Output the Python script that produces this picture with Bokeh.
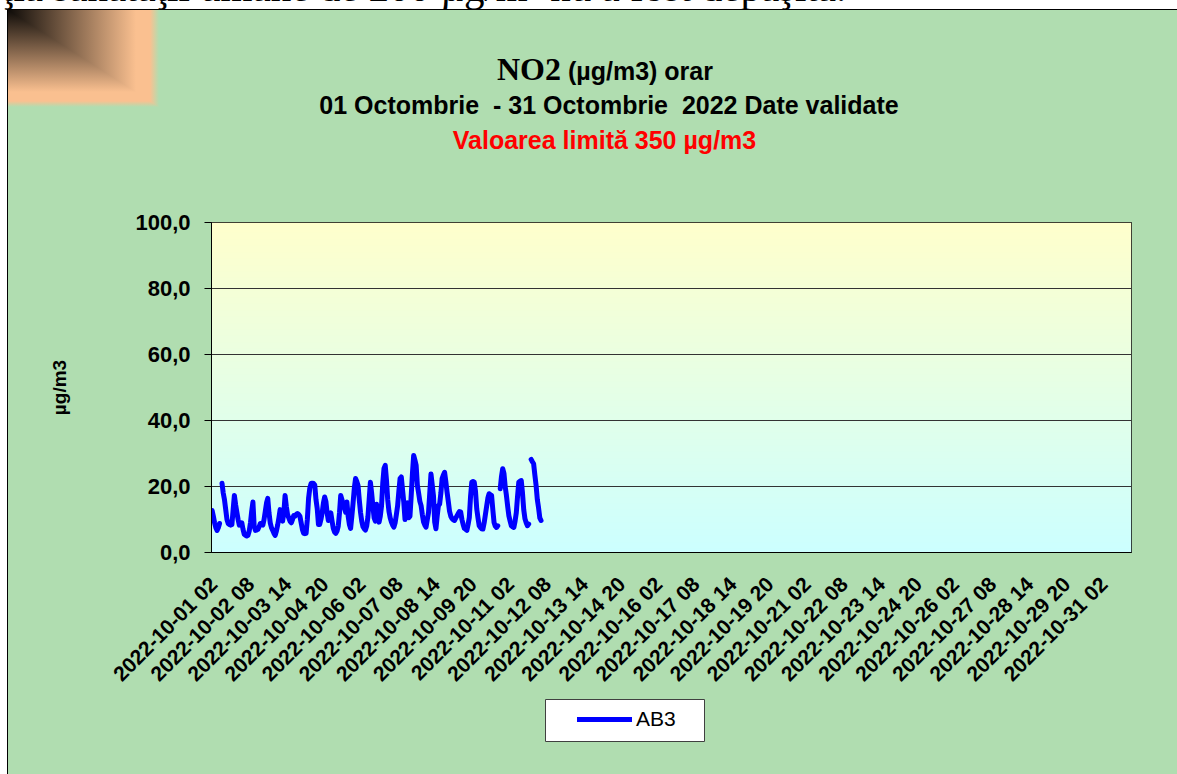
import math
import numpy as np
from bokeh.plotting import figure
from bokeh.layouts import column, row
from bokeh.models import Range1d, FixedTicker, Legend, LegendItem, Div
from bokeh.embed import file_html
from bokeh.resources import INLINE

NAN = float("nan")

# ---- data (hourly NO2, µg/m3, starting 2022-10-01 01) ----
no2_ab3 = [
    12.7, 11.0, 9.0, 7.5, 6.7, 7.5, 8.8, NAN, 21.0, 18.0, 16.0, 13.0, 10.0, 8.8, 8.5, 8.3, 8.5, 13.0, 17.3, 14.5, 12.2, 10.0, 8.3, 8.5,
    9.0, 7.0, 5.5, 5.2, 5.0, 5.2, 6.5, 9.0, 12.5, 15.3, 8.0, 6.7, 6.8, 7.0, 7.8, 8.8, 8.5, 8.3, 10.0, 12.5, 15.0, 16.4, 12.0, 9.0,
    7.5, 6.7, 5.8, 5.2, 6.5, 8.3, 10.5, 13.0, 11.5, 9.5, 12.0, 17.3, 14.0, 11.5, 10.5, 9.5, 9.0, 10.0, 11.2, 11.0, 11.5, 11.8, 11.5, 11.0,
    9.0, 7.0, 5.8, 5.7, 5.8, 10.0, 16.4, 19.5, 20.9, 21.0, 20.9, 20.5, 16.0, 13.3, 8.5, 8.5, 10.0, 12.0, 15.0, 16.8, 15.5, 12.0, 9.7, 10.5,
    12.0, 9.5, 7.3, 6.2, 5.8, 6.5, 8.0, 12.0, 17.3, 16.0, 14.8, 13.5, 12.2, 15.3, 11.0, 8.5, 7.3, 11.0, 15.0, 19.5, 22.4, 21.5, 20.3, 16.0,
    12.2, 9.5, 7.8, 7.2, 6.8, 8.0, 10.8, 16.0, 21.3, 18.0, 14.1, 10.5, 9.5, 14.6, 12.0, 9.2, 11.0, 14.1, 21.0, 25.5, 26.4, 22.0, 16.0, 12.5,
    10.5, 9.2, 8.3, 7.7, 9.0, 11.5, 14.1, 18.5, 22.4, 22.9, 19.0, 15.2, 10.0, 14.5, 15.0, 10.5, 11.0, 17.2, 24.0, 29.4, 28.0, 26.4, 20.3, 18.0,
    15.5, 14.2, 11.5, 9.2, 8.3, 7.7, 10.0, 12.1, 18.0, 23.8, 20.5, 17.2, 9.2, 7.2, 11.0, 14.2, 14.7, 18.0, 22.4, 23.5, 24.3, 21.5, 18.3, 15.5,
    12.5, 11.0, 10.3, 9.9, 9.7, 10.4, 11.1, 11.8, 12.4, 12.3, 10.0, 8.5, 7.3, 7.0, 6.7, 8.5, 10.6, 17.0, 21.3, 21.5, 21.3, 18.5, 13.2, 10.5,
    8.1, 7.6, 7.2, 7.1, 9.0, 11.5, 14.0, 16.5, 17.8, 17.5, 17.3, 13.0, 9.1, 8.0, 7.6, 8.1, NAN, 19.3, 23.0, 25.4, 24.0, 20.0, 17.3, 14.0,
    11.1, 9.5, 8.1, 7.8, 7.6, 9.5, 12.1, 17.0, 21.3, 21.6, 21.8, 18.0, 13.0, 10.2, 9.0, 8.1, 8.6, NAN, 28.2, 27.5, 26.9, 23.5, 20.3, 16.0,
    13.5, 10.5, 9.7,
]

x_tick_labels = [
    "2022-10-01 02", "2022-10-02 08", "2022-10-03 14", "2022-10-04 20", "2022-10-06 02",
    "2022-10-07 08", "2022-10-08 14", "2022-10-09 20", "2022-10-11 02", "2022-10-12 08",
    "2022-10-13 14", "2022-10-14 20", "2022-10-16 02", "2022-10-17 08", "2022-10-18 14",
    "2022-10-19 20", "2022-10-21 02", "2022-10-22 08", "2022-10-23 14", "2022-10-24 20",
    "2022-10-26 02", "2022-10-27 08", "2022-10-28 14", "2022-10-29 20", "2022-10-31 02",
]
y_ticks = [0, 20, 40, 60, 80, 100]
y_tick_labels = ["0,0", "20,0", "40,0", "60,0", "80,0", "100,0"]

page_text = "ţia sănătăţii umane de 200 µg/m³ nu a fost depăşită."
title_main = "NO2"
title_unit = "(µg/m3) orar"
subtitle = "01 Octombrie  - 31 Octombrie  2022 Date validate"
limit_text = "Valoarea limită 350 µg/m3"
series_name = "AB3"
y_label = "µg/m3"

# hourly categories (hours 01..24) for the month
hours = [f"2022-10-{d:02d} {h:02d}" for d in range(1, 32) for h in range(1, 25)]
n_hours = len(hours)

GREEN = "#B0DDB0"
SANS = "Liberation Sans"
SERIF = "Liberation Serif"
PAGE_W, PAGE_H = 1177, 774
TOP_H = 190          # top band (page y 0..190): html header
LEFT_W = 8           # left white margin + outer border line
SPLIT = 698          # main chart band (page y 190..698), legend band below
MAIN_W = PAGE_W - LEFT_W
MAIN_H = SPLIT - TOP_H
BOT_H = PAGE_H - SPLIT
FRAME_L, FRAME_W = 211, 920   # plot frame (page x)

# ================= top band (HTML header with titles and corner square) =================
DARK = "rgb(14,11,8)"
PEACH = "rgb(250,192,144)"
GREEN_RGB = "rgb(176,221,176)"


def abs_text(txt, left, top, font, size, weight="normal", color="#000", extra=""):
    return (f'<div style="position:absolute;left:{left}px;top:{top}px;font-family:\'{font}\';'
            f'font-size:{size}px;line-height:{size}px;font-weight:{weight};color:{color};'
            f'white-space:pre;margin:0;padding:0;{extra}">{txt}</div>')


asc_sans = 0.8465   # baseline offset (em) with line-height 1em
asc_serif = 0.8375
header_html = (
    f'<div style="position:relative;width:{PAGE_W}px;height:{TOP_H}px;overflow:hidden;background:white;margin:0;padding:0;">'
    f'<div style="position:absolute;left:7px;top:9px;width:{PAGE_W - 7}px;height:{TOP_H - 9}px;background:{GREEN};'
    f'border-left:1px solid #000;border-top:1px solid #000;box-sizing:border-box;"></div>'
    f'<div style="position:absolute;left:8px;top:10px;width:151px;height:97px;'
    f'background:linear-gradient(to right,{DARK} 0px,{PEACH} 128px,{PEACH} 142px,{GREEN_RGB} 151px);"></div>'
    f'<div style="position:absolute;left:8px;top:10px;width:151px;height:97px;clip-path:polygon(0 0,0 100%,100% 100%);'
    f'background:linear-gradient(to bottom,{DARK} 0px,{PEACH} 82px,{PEACH} 91px,{GREEN_RGB} 97px);"></div>'
    + abs_text(page_text, 2, round(1.5 - 0.8375 * 41, 1), SERIF, 41)
    + abs_text(title_main, 497, round(80 - asc_serif * 32, 1), SERIF, 32, "bold")
    + abs_text(title_unit, 568, round(80 - asc_sans * 25, 1), SANS, 25, "bold")
    + abs_text(subtitle, 609, round(114.5 - asc_sans * 25, 1), SANS, 25, "bold", extra="transform:translateX(-50%);")
    + abs_text(limit_text, 604.5, round(149 - asc_sans * 25, 1), SANS, 25, "bold", "#FF0000",
               extra="transform:translateX(-50%);")
    + '</div>'
)
header = Div(text=header_html, width=PAGE_W, height=TOP_H, margin=0)

strip = Div(text=(f'<div style="position:relative;width:{LEFT_W}px;height:{PAGE_H - TOP_H}px;background:white;margin:0;padding:0;">'
                  f'<div style="position:absolute;left:7px;top:0;width:1px;height:{PAGE_H - TOP_H}px;background:#000;"></div></div>'),
            width=LEFT_W, height=PAGE_H - TOP_H, margin=0)

# ================= main chart =================
p = figure(width=MAIN_W, height=MAIN_H, output_backend="svg", toolbar_location=None,
           x_range=Range1d(0, n_hours), y_range=Range1d(0, 100),
           min_border_left=FRAME_L - LEFT_W, min_border_right=MAIN_W - (FRAME_L - LEFT_W) - FRAME_W,
           min_border_top=222 - TOP_H, min_border_bottom=MAIN_H - (222 - TOP_H) - 330,
           border_fill_color=GREEN, background_fill_color="#E6FFE6")
p.outline_line_color = "black"
p.outline_line_width = 1


def rgba_image(rgb):
    h, w, _ = rgb.shape
    img = np.empty((h, w), dtype=np.uint32)
    v = img.view(dtype=np.uint8).reshape((h, w, 4))
    v[:, :, :3] = np.clip(np.round(rgb), 0, 255).astype(np.uint8)
    v[:, :, 3] = 255
    return img


# plot-area vertical gradient (light cyan bottom -> light yellow top)
n = 256
t = np.linspace(0, 1, n)[:, None, None]
c0 = np.array([204, 255, 255], dtype=float)
c1 = np.array([255, 255, 204], dtype=float)
p.image_rgba(image=[rgba_image(c0 + (c1 - c0) * t)], x=0, y=0, dw=n_hours, dh=100, level="image")

p.xgrid.visible = False
p.ygrid.ticker = FixedTicker(ticks=y_ticks)
p.ygrid.grid_line_color = "#333333"
p.ygrid.grid_line_width = 1
p.ygrid.level = "underlay"

xs = [i + 0.5 for i in range(len(no2_ab3))]
LINE_STYLE = dict(line_color="#0000FF", line_width=5, line_join="round", line_cap="round")
r = p.line(xs, no2_ab3, **LINE_STYLE)

# y axis
p.yaxis.ticker = FixedTicker(ticks=y_ticks)
p.yaxis.major_label_overrides = {tk: lb for tk, lb in zip(y_ticks, y_tick_labels)}
p.yaxis.major_label_text_font = SANS
p.yaxis.major_label_text_font_size = "22px"
p.yaxis.major_label_text_font_style = "bold"
p.yaxis.major_label_text_color = "black"
p.yaxis.major_tick_out = 7
p.yaxis.major_tick_in = 0
p.yaxis.minor_tick_out = 0
p.yaxis.minor_tick_in = 0
p.yaxis.major_label_standoff = 14
p.yaxis.axis_line_color = "black"
p.yaxis.major_tick_line_color = "black"
p.yaxis.axis_label = y_label
p.yaxis.axis_label_text_font = SANS
p.yaxis.axis_label_text_font_size = "19px"
p.yaxis.axis_label_text_font_style = "bold"
p.yaxis.axis_label_text_color = "black"
p.yaxis.axis_label_standoff = 62

# x axis
x_ticks = [hours.index(lb) + 0.5 for lb in x_tick_labels]
p.xaxis.ticker = FixedTicker(ticks=x_ticks)
p.xaxis.major_label_overrides = {tk: lb for tk, lb in zip(x_ticks, x_tick_labels)}
p.xaxis.major_label_orientation = math.pi / 4
p.xaxis.major_label_text_font = SANS
p.xaxis.major_label_text_font_size = "21px"
p.xaxis.major_label_text_font_style = "bold"
p.xaxis.major_label_text_color = "black"
p.xaxis.major_tick_out = 0
p.xaxis.major_tick_in = 0
p.xaxis.minor_tick_out = 0
p.xaxis.minor_tick_in = 0
p.xaxis.major_label_standoff = 28
p.xaxis.axis_line_color = "black"

# ================= legend band =================
bot = figure(width=MAIN_W, height=BOT_H, output_backend="svg", toolbar_location=None,
             x_range=Range1d(FRAME_L, FRAME_L + FRAME_W), y_range=Range1d(0, BOT_H),
             x_axis_type=None, y_axis_type=None,
             min_border_left=FRAME_L - LEFT_W, min_border_right=MAIN_W - (FRAME_L - LEFT_W) - FRAME_W,
             min_border_top=0, min_border_bottom=0,
             background_fill_color=None, border_fill_color=GREEN, outline_line_color=None)


def Yb(page_y):
    return PAGE_H - page_y


bot.quad(left=[545], right=[704], top=[Yb(699)], bottom=[Yb(741)],
         fill_color="white", line_color="#404040", line_width=1)
key = bot.line(x=[NAN], y=[NAN], **LINE_STYLE)
legend = Legend(items=[LegendItem(label=series_name, renderers=[key])],
                location=(578 - 10 - FRAME_L + 9, Yb(742) + 11), orientation="horizontal",
                border_line_color=None, background_fill_alpha=0,
                padding=10, margin=0, spacing=0,
                glyph_width=55, glyph_height=20, label_height=20, label_standoff=4,
                label_text_font=SANS, label_text_font_size="21px", label_text_color="black")
bot.add_layout(legend)

layout = column(header,
                row(strip, column(p, bot, styles={"background-color": GREEN}),
                    styles={"background-color": GREEN}),
                styles={"background-color": GREEN})
open("out.html", "w").write(file_html(layout, INLINE))
